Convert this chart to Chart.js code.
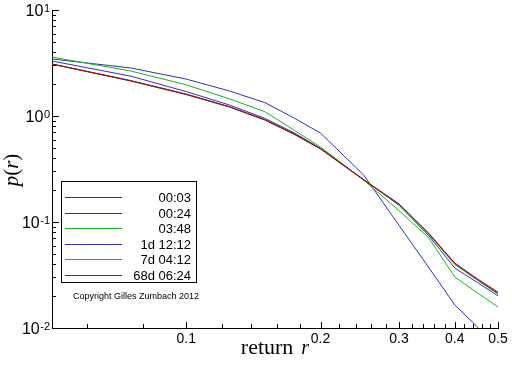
<!DOCTYPE html>
<html>
<head>
<meta charset="utf-8">
<script src="https://cdn.jsdelivr.net/npm/chart.js@4.4.1/dist/chart.umd.min.js"></script>
<style>
html,body{margin:0;padding:0;background:#fff;}
canvas{display:block;}
</style>
</head>
<body>
<canvas id="c" width="512" height="366"></canvas>
<script>
// ---- data ----
const rValues   = [0.05, 0.075, 0.1, 0.125, 0.15, 0.175, 0.2, 0.25, 0.3, 0.35, 0.4, 0.45, 0.5];
const p_00_03   = [3.09, 2.15, 1.60, 1.22, 0.92, 0.67, 0.49, 0.250, 0.148, 0.078, 0.041, 0.0290, 0.0218];
const p_00_24   = [3.10, 2.16, 1.61, 1.225, 0.925, 0.675, 0.492, 0.251, 0.147, 0.0775, 0.0405, 0.0286, 0.0213];
const p_03_48   = [3.08, 2.14, 1.59, 1.215, 0.915, 0.668, 0.488, 0.249, 0.146, 0.0765, 0.0398, 0.0281, 0.0209];
const p_1d      = [3.30, 2.38, 1.70, 1.27, 0.95, 0.69, 0.495, 0.250, 0.144, 0.074, 0.0368, 0.0268, 0.0201];
const p_7d      = [3.60, 2.66, 1.97, 1.45, 1.10, 0.73, 0.51, 0.248, 0.128, 0.0706, 0.0303, 0.0214, 0.0158];
const p_68d     = [3.45, 2.84, 2.23, 1.72, 1.34, 0.95, 0.69, 0.277, 0.093, 0.037, 0.0165, 0.0102, 0.0064];
const seriesLabels = ['00:03', '00:24', '03:48', '1d 12:12', '7d 04:12', '68d 06:24'];
const seriesValues = [p_00_03, p_00_24, p_03_48, p_1d, p_7d, p_68d];

const xTickVals   = [0.1, 0.2, 0.3, 0.4, 0.5];
const xTickLabels = ['0.1', '0.2', '0.3', '0.4', '0.5'];
const xMinorTicks = [0.06, 0.08, 0.12, 0.14, 0.16, 0.18, 0.22, 0.24, 0.26, 0.28,
                     0.32, 0.34, 0.36, 0.38, 0.42, 0.44, 0.46, 0.48];
const yTickVals   = [0.01, 0.1, 1, 10];
const yTickExps   = ['-2', '-1', '0', '1'];
const yMinorMult  = [2, 3, 4, 5, 6, 7, 8, 9];
const copyrightText = 'Copyright Gilles Zumbach 2012';

// ---- styles ----
const seriesColors = ['#c00000', '#3232a8', '#1cb01c', '#3232a8', '#1cb01c', '#3232a8'];

const datasets = seriesValues.map((vals, i) => ({
  label: seriesLabels[i],
  data: rValues.map((r, j) => ({x: r, y: vals[j]})),
  borderColor: seriesColors[i],
  backgroundColor: seriesColors[i],
  borderWidth: 1,
  pointRadius: 0,
  tension: 0,
  fill: false
}));

const decorPlugin = {
  id: 'decor',
  afterDraw(chart) {
    const ctx = chart.ctx;
    const xs = chart.scales.x, ys = chart.scales.y;
    const ca = chart.chartArea;
    ctx.save();
    ctx.strokeStyle = '#000';
    ctx.lineWidth = 1;
    ctx.beginPath();
    // x ticks (inward)
    xTickVals.forEach(v => {
      const px = Math.round(xs.getPixelForValue(v)) + 0.5;
      ctx.moveTo(px, ca.bottom); ctx.lineTo(px, ca.bottom - 6);
    });
    xMinorTicks.forEach(v => {
      const px = Math.round(xs.getPixelForValue(v)) + 0.5;
      ctx.moveTo(px, ca.bottom); ctx.lineTo(px, ca.bottom - 4);
    });
    // y ticks (inward)
    yTickVals.forEach((v, k) => {
      const py = Math.round(ys.getPixelForValue(v)) + 0.5;
      ctx.moveTo(ca.left, py); ctx.lineTo(ca.left + 7, py);
      if (k < yTickVals.length - 1) {
        yMinorMult.forEach(m => {
          const pm = Math.round(ys.getPixelForValue(v * m)) + 0.5;
          ctx.moveTo(ca.left, pm); ctx.lineTo(ca.left + 4, pm);
        });
      }
    });
    ctx.stroke();

    // y tick labels 10^n
    ctx.fillStyle = '#000';
    yTickVals.forEach((v, k) => {
      const py = ys.getPixelForValue(v);
      const right = ca.left - 2;
      ctx.font = '11px "Liberation Sans", Arial, sans-serif';
      ctx.textAlign = 'right';
      ctx.textBaseline = 'alphabetic';
      const sw = ctx.measureText(yTickExps[k]).width;
      ctx.fillText(yTickExps[k], right, py + 2);
      ctx.font = '16px "Liberation Sans", Arial, sans-serif';
      ctx.fillText('10', right - sw - 0.5, py + 6);
    });

    // axis titles
    const serif = '"Liberation Serif", "Times New Roman", serif';
    ctx.textAlign = 'left';
    ctx.textBaseline = 'alphabetic';
    ctx.font = '22px ' + serif;
    const w1 = ctx.measureText('return').width;
    ctx.font = 'italic 20px ' + serif;
    const w2 = ctx.measureText('r').width;
    const gap = 8;
    const total = w1 + gap + w2;
    let sx = (ca.left + ca.right) / 2 - total / 2;
    const by = 354;
    ctx.font = '22px ' + serif;
    ctx.fillText('return', sx, by);
    ctx.font = 'italic 20px ' + serif;
    ctx.fillText('r', sx + w1 + gap, by);

    // y title: "p(r)" rotated
    ctx.save();
    ctx.translate(18, 170);
    ctx.rotate(-Math.PI / 2);
    const parts = [['p', 'italic 21px '], ['(', '21px '], ['r', 'italic 21px '], [')', '21px ']];
    let tw = 0;
    parts.forEach(p => { ctx.font = p[1] + serif; tw += ctx.measureText(p[0]).width; });
    let cx = -tw / 2;
    parts.forEach(p => {
      ctx.font = p[1] + serif;
      ctx.fillText(p[0], cx, 0);
      cx += ctx.measureText(p[0]).width;
    });
    ctx.restore();

    // legend box
    const bx = 61.5, byTop = 181.5, bw = 135, bh = 101;
    ctx.fillStyle = '#fff';
    ctx.fillRect(bx, byTop, bw, bh);
    ctx.strokeStyle = '#000';
    ctx.strokeRect(bx, byTop, bw, bh);
    const rowY0 = 197, rowStep = 15.5;
    ctx.font = '13px "Liberation Sans", Arial, sans-serif';
    ctx.textAlign = 'right';
    ctx.textBaseline = 'middle';
    seriesLabels.forEach((lab, i) => {
      const yy = Math.round(rowY0 + i * rowStep);
      ctx.fillStyle = seriesColors[i];
      ctx.fillRect(65, yy, 57, 1);
      ctx.fillStyle = '#000';
      ctx.fillText(lab, 191, yy + 1.5);
    });

    // copyright
    ctx.font = '9px "Liberation Sans", Arial, sans-serif';
    ctx.textAlign = 'left';
    ctx.textBaseline = 'middle';
    ctx.fillText(copyrightText, 73, 296.5);
    ctx.restore();
  }
};

new Chart(document.getElementById('c'), {
  type: 'line',
  data: { datasets },
  plugins: [decorPlugin],
  options: {
    responsive: false,
    animation: false,
    devicePixelRatio: 1,
    layout: { padding: { left: 0, right: 14, top: 10, bottom: 0 } },
    plugins: { legend: { display: false }, tooltip: { enabled: false } },
    scales: {
      x: {
        type: 'logarithmic',
        min: 0.05, max: 0.5,
        grid: { display: false, drawTicks: false },
        border: { display: true, color: '#000', width: 1 },
        afterBuildTicks(scale) { scale.ticks = xTickVals.map(v => ({ value: v })); },
        afterFit(scale) { scale.height = 38; },
        ticks: {
          autoSkip: false, maxRotation: 0, padding: 3,
          color: '#000',
          font: { family: '"Liberation Sans", Arial, sans-serif', size: 14 },
          callback(val, idx) { return xTickLabels[idx]; }
        }
      },
      y: {
        type: 'logarithmic',
        min: 0.01, max: 10,
        grid: { display: false, drawTicks: false },
        border: { display: true, color: '#000', width: 1 },
        afterBuildTicks(scale) { scale.ticks = yTickVals.map(v => ({ value: v })); },
        afterFit(scale) { scale.width = 52; },
        ticks: { display: false }
      }
    }
  }
});
</script>
</body>
</html>
